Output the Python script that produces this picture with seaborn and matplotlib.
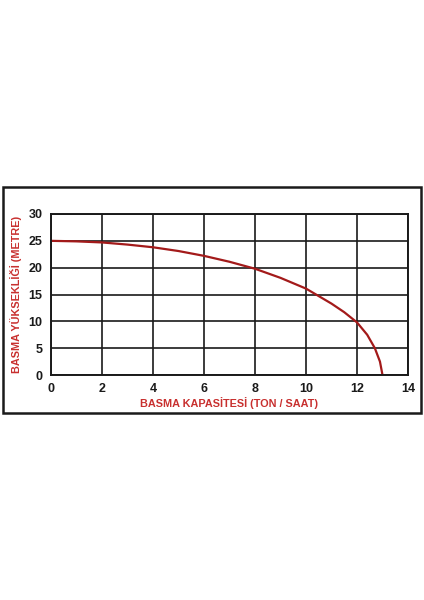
import matplotlib
matplotlib.use("Agg")
import matplotlib.pyplot as plt
import seaborn as sns
import pandas as pd
from matplotlib.patches import Rectangle

# pompa eğrisi: basma kapasitesi (ton/saat) - basma yüksekliği (metre)
kapasite = [0, 1, 2, 3, 4, 5, 6, 7, 8, 9, 10, 11, 11.5, 12, 12.4, 12.7, 12.9, 13.0]
yukseklik = [25, 24.9, 24.7, 24.3, 23.8, 23.1, 22.2, 21.1, 19.8, 18.1, 16.1, 13.3, 11.7, 9.8, 7.5, 5.0, 2.5, 0]
x_ticks = [0, 2, 4, 6, 8, 10, 12, 14]
y_ticks = [0, 5, 10, 15, 20, 25, 30]

df = pd.DataFrame({"kapasite": kapasite, "yukseklik": yukseklik})

sns.set_style("white")
plt.rcParams["font.family"] = ["Liberation Sans", "DejaVu Sans"]

fig = plt.figure(figsize=(4.24, 6), dpi=100)
ax = fig.add_axes([51 / 424, 1 - 375 / 600, 357 / 424, 161 / 600])

sns.lineplot(data=df, x="kapasite", y="yukseklik", ax=ax, color="#a31a1a", linewidth=1.6, sort=False)

ax.set_xlim(0, 14)
ax.set_ylim(0, 30)
ax.set_xticks(x_ticks)
ax.set_yticks(y_ticks)
ax.grid(True, color="#1a1a1a", linewidth=1.2)
ax.set_axisbelow(True)
for s in ax.spines.values():
    s.set_color("#1a1a1a")
    s.set_linewidth(1.4)
ax.tick_params(length=0, labelsize=9, colors="#1a1a1a")
ax.tick_params(axis="x", pad=6)
ax.tick_params(axis="y", pad=6)
for lbl in ax.get_xticklabels() + ax.get_yticklabels():
    lbl.set_fontweight("bold")

red = "#c8302f"
ax.set_xlabel("BASMA KAPASİTESİ (TON / SAAT)", color=red, fontsize=7.8, fontweight="bold", labelpad=1)
ax.set_ylabel("BASMA YÜKSEKLİĞİ (METRE)", color=red, fontsize=7.8, fontweight="bold", labelpad=5)

# dış çerçeve
fig.patches.append(Rectangle((3 / 424, 1 - 413 / 600), 418 / 424, 226 / 600,
                             transform=fig.transFigure, fill=False,
                             edgecolor="#1a1a1a", linewidth=1.8))

fig.savefig("out.png", dpi=100, facecolor="white")
